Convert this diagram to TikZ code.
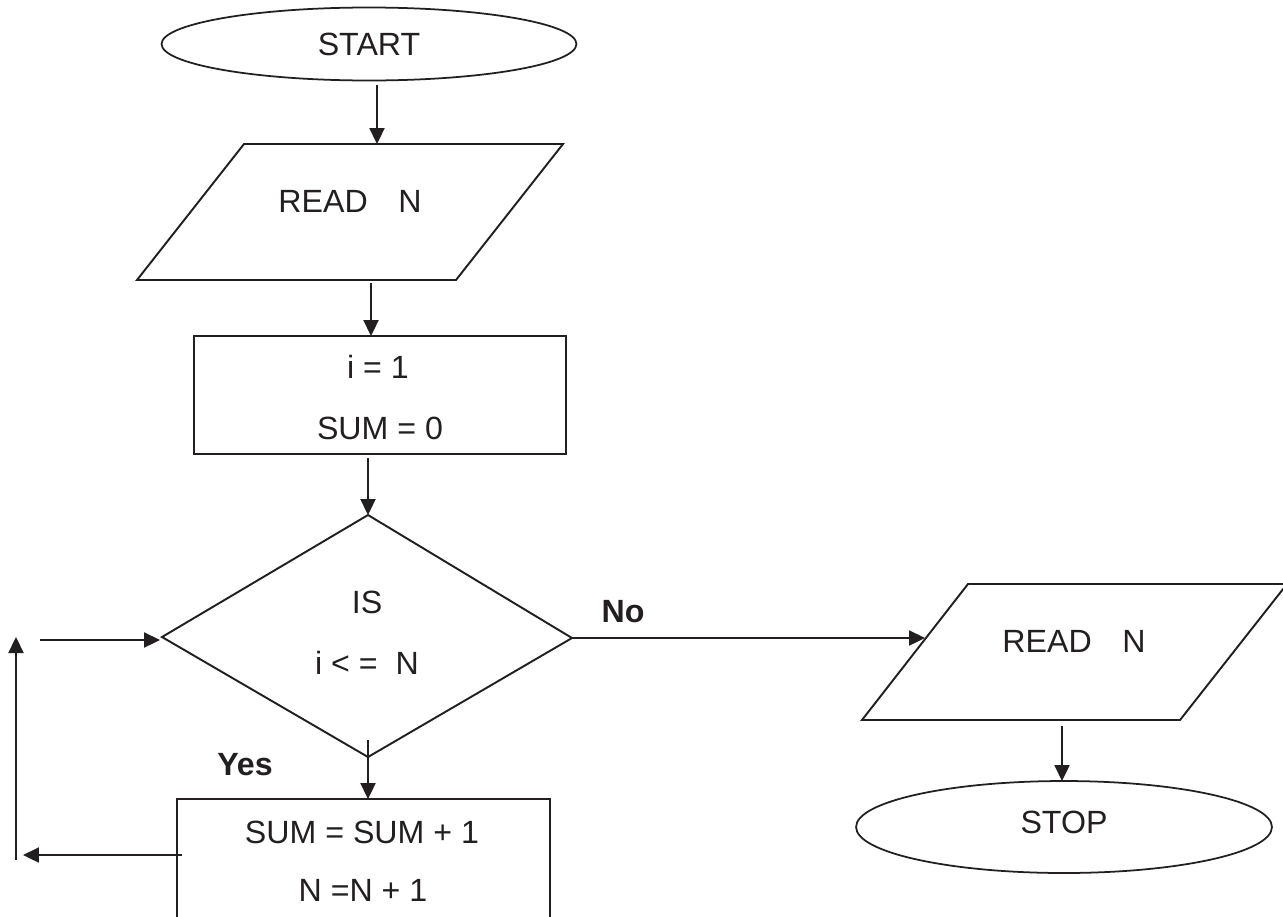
\documentclass[tikz,border=0pt]{standalone}
\usepackage{fontspec}
\setmainfont{Liberation Sans}
\usetikzlibrary{shapes.geometric,arrows.meta}
\definecolor{ink}{HTML}{231F20}
\tikzset{
  lbl/.style={font=\fontsize{18.3}{20}\selectfont, text=ink, inner sep=0pt},
  blbl/.style={font=\fontsize{18.3}{20}\selectfont\bfseries, text=ink, inner sep=0pt},
  term/.style={ellipse, draw=ink, line width=1pt, inner sep=0pt},
  outline/.style={draw=ink, line width=1.1pt, line join=miter},
  flow/.style={draw=ink, line width=1.3pt, -{Triangle[length=0.32cm,width=0.3cm]}}
}
\begin{document}
\begin{tikzpicture}[x=0.02cm,y=-0.02cm]
\useasboundingbox (0,0) rectangle (1283,916);
\clip (0,0) rectangle (1283,916);

% START
\node[term, lbl, minimum width=8.3cm, minimum height=1.46cm] (start) at (369,44) {START};

% READ N (left)
\draw[outline] (244,144) -- (563,144) -- (456,280) -- (137,280) -- cycle;
\node[lbl] (read1) at (350,201) {READ\hspace{0.95em}N};
\coordinate (read1top) at (377,144);
\coordinate (read1out) at (371,283);

% init box
\node[outline, minimum width=7.44cm, minimum height=2.36cm, inner sep=0pt] (init) at (380,395) {};
\node[lbl] (initA) at (378,367) {i = 1};
\node[lbl] (initB) at (380,428) {SUM = 0};
\coordinate (inittop) at (371,336);
\coordinate (initout) at (368,458);

% decision diamond
\draw[outline] (368,515) coordinate (dtop) -- (572,638) coordinate (dright)
  -- (368,757) coordinate (dbot) -- (162,637) coordinate (dleft) -- cycle;
\node[lbl] (decA) at (367,602) {IS};
\node[lbl] (decB) at (367,663) {i < =\ \ N};
\coordinate (dout) at (368,740);
\coordinate (dleftin) at (160,640);

% SUM box (cut at the bottom)
\draw[outline] (177,935) -- (177,799) -- (550,799) -- (550,935);
\node[lbl] (sumA) at (362,832) {SUM = SUM + 1};
\node[lbl] (sumB) at (363,890) {N =N + 1};
\coordinate (sumtop) at (368,799);
\coordinate (sumleft) at (182,855);

% loop pieces
\coordinate (loopA) at (23,855);
\coordinate (loopB) at (16,860);
\coordinate (loopC) at (16,637);
\coordinate (loopD) at (40,640);

% READ N (right)
\draw[outline] (968,584) -- (1287,584) -- (1180,720) -- (862,720) -- cycle;
\node[lbl] (read2) at (1074,641) {READ\hspace{0.95em}N};
\coordinate (read2in) at (925,638);
\coordinate (read2out) at (1062,726);

% STOP
\node[term, minimum width=8.32cm, minimum height=1.84cm] (stop) at (1064,827) {};
\node[lbl] (stoptext) at (1064,822) {STOP};
\coordinate (stoptop) at (1062,781);
\coordinate (startout) at (377,85);

% labels
\node[blbl] (yes) at (245,765) {Yes};
\node[blbl] (no) at (623,612) {No};

% connectors
\draw[flow] (startout) -- (read1top);
\draw[flow] (read1out) -- (inittop);
\draw[flow] (initout) -- (dtop);
\draw[flow] (dout) -- (sumtop);
\draw[flow] (dright) -- (read2in);
\draw[flow] (read2out) -- (stoptop);
\draw[flow] (sumleft) -- (loopA);
\draw[flow] (loopB) -- (loopC);
\draw[flow] (loopD) -- (dleftin);
\end{tikzpicture}
\end{document}
